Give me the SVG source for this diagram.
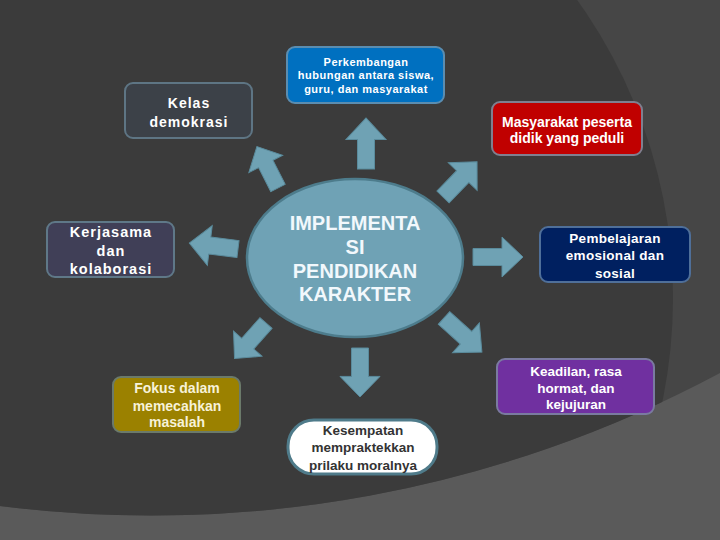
<svg xmlns="http://www.w3.org/2000/svg" xmlns:xlink="http://www.w3.org/1999/xlink" width="720" height="540" viewBox="0 0 720 540">
<style>
.t{font-family:"Liberation Sans",Arial,sans-serif;font-weight:bold;text-anchor:middle;fill:#ffffff}
.box{stroke-width:2}
.arr{fill:#6fa2b4;stroke:#5a8b9c;stroke-width:1}
</style>
<defs>
<clipPath id="mid"><path d="M0,0 H720 V373 A1205,1205 0 0 1 0,506 Z"/></clipPath>
<path id="arrow" d="M0,-8.5 L29,-8.5 L29,-20 L50,0 L29,20 L29,8.5 L0,8.5 Z"/>
</defs>
<g id="background">
<rect x="0" y="0" width="720" height="540" fill="#5a5a5a"/>
<path d="M0,0 H720 V373 A1205,1205 0 0 1 0,506 Z" fill="#464646"/>
<circle cx="162" cy="298" r="511" fill="#3b3b3b" clip-path="url(#mid)"/>
</g>
<g id="connectors">
<use xlink:href="#arrow" href="#arrow" class="arr" transform="translate(366,169) rotate(-90) scale(1.02,1)"/>
<use xlink:href="#arrow" href="#arrow" class="arr" transform="translate(278,188) rotate(-117) scale(0.93,0.95)"/>
<use xlink:href="#arrow" href="#arrow" class="arr" transform="translate(443,197) rotate(-46) scale(0.98,1)"/>
<use xlink:href="#arrow" href="#arrow" class="arr" transform="translate(238,249) rotate(187) scale(0.98,1)"/>
<use xlink:href="#arrow" href="#arrow" class="arr" transform="translate(473,257)"/>
<use xlink:href="#arrow" href="#arrow" class="arr" transform="translate(444,318) rotate(42) scale(1.02,1)"/>
<use xlink:href="#arrow" href="#arrow" class="arr" transform="translate(266,323) rotate(131.5) scale(0.95,0.95)"/>
<use xlink:href="#arrow" href="#arrow" class="arr" transform="translate(360,348) rotate(90) scale(0.98,1)"/>
</g>
<g id="center">
<ellipse cx="355" cy="258" rx="108" ry="79" fill="#6fa2b5" stroke="#4d7c8c" stroke-width="2.5"/>
<text class="t" style="font-size:20px;fill:#f2f8fc"><tspan x="355" y="230">IMPLEMENTA</tspan><tspan x="355" y="254">SI</tspan><tspan x="355" y="278">PENDIDIKAN</tspan><tspan x="355" y="301">KARAKTER</tspan></text>
</g>
<g id="kelas">
<rect class="box" x="125" y="83" width="127" height="55" rx="8" fill="#3c4148" stroke="#5e7584"/>
<text class="t" style="font-size:14px;letter-spacing:1px"><tspan x="189" y="108">Kelas</tspan><tspan x="189" y="127">demokrasi</tspan></text>
</g>
<g id="perkembangan">
<rect class="box" x="287" y="47" width="157" height="56" rx="8" fill="#0070c0" stroke="#5b8db0"/>
<text class="t" style="font-size:11px;letter-spacing:0.5px"><tspan x="366" y="66">Perkembangan</tspan><tspan x="366" y="79">hubungan antara siswa,</tspan><tspan x="366" y="93">guru, dan masyarakat</tspan></text>
</g>
<g id="masyarakat">
<rect class="box" x="492" y="102" width="150" height="53" rx="8" fill="#c00000" stroke="#7f7f8f"/>
<text class="t" style="font-size:14px"><tspan x="567" y="127">Masyarakat peserta</tspan><tspan x="567" y="143">didik yang peduli</tspan></text>
</g>
<g id="pembelajaran">
<rect class="box" x="540" y="227" width="150" height="55" rx="8" fill="#002060" stroke="#4f6f99"/>
<text class="t" style="font-size:13.5px;letter-spacing:0.3px"><tspan x="615" y="243">Pembelajaran</tspan><tspan x="615" y="260">emosional dan</tspan><tspan x="615" y="278">sosial</tspan></text>
</g>
<g id="kerjasama">
<rect class="box" x="47" y="222" width="127" height="55" rx="8" fill="#403f57" stroke="#5f7888"/>
<text class="t" style="font-size:14.5px;letter-spacing:1px"><tspan x="111" y="237">Kerjasama</tspan><tspan x="111" y="256">dan</tspan><tspan x="111" y="274">kolaborasi</tspan></text>
</g>
<g id="fokus">
<rect class="box" x="113" y="377" width="127" height="55" rx="8" fill="#9b8100" stroke="#6b7a6a"/>
<text class="t" style="font-size:14px;fill:#f7f2d8"><tspan x="177" y="393">Fokus dalam</tspan><tspan x="177" y="411">memecahkan</tspan><tspan x="177" y="427">masalah</tspan></text>
</g>
<g id="kesempatan">
<rect x="288" y="420" width="149" height="54" rx="26" fill="#ffffff" stroke="#4f7b8a" stroke-width="3"/>
<text class="t" style="font-size:13.5px;fill:#333333"><tspan x="363" y="435">Kesempatan</tspan><tspan x="363" y="452">mempraktekkan</tspan><tspan x="363" y="470">prilaku moralnya</tspan></text>
</g>
<g id="keadilan">
<rect class="box" x="497" y="359" width="157" height="55" rx="8" fill="#7030a0" stroke="#7a7aa0"/>
<text class="t" style="font-size:13.5px"><tspan x="576" y="376">Keadilan, rasa</tspan><tspan x="576" y="393">hormat, dan</tspan><tspan x="576" y="409">kejujuran</tspan></text>
</g>
</svg>
